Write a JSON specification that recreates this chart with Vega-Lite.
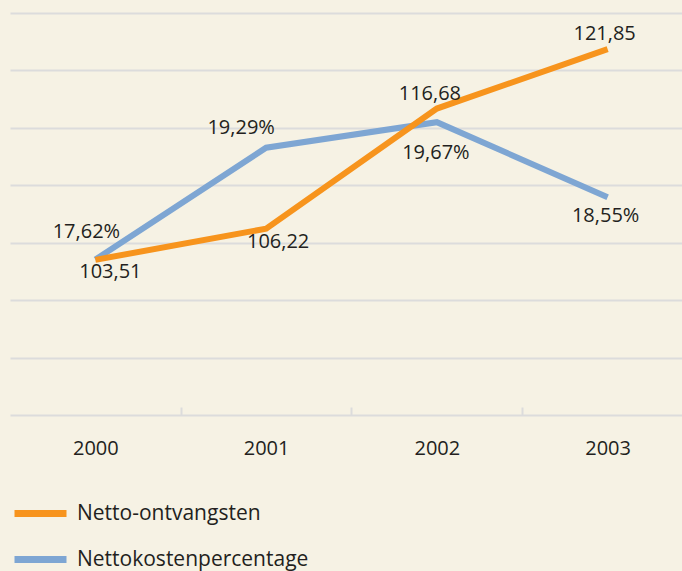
{
  "$schema": "https://vega.github.io/schema/vega-lite/v6.json",
  "width": 672,
  "height": 402,
  "autosize": {"type": "none"},
  "padding": {"left": 10, "top": 13, "right": 0, "bottom": 156},
  "background": "#f6f2e4",
  "config": {
    "view": {"stroke": null},
    "font": "Open Sans",
    "locale": {"number": {"decimal": ",", "thousands": ".", "grouping": [3], "currency": ["€", ""]}},
    "text": {"font": "Open Sans", "fontSize": 20, "color": "#231f20", "align": "center", "baseline": "middle"}
  },
  "data": {
    "values": [
      {"year": "2000", "series": "Netto-ontvangsten", "value": 103.51},
      {"year": "2001", "series": "Netto-ontvangsten", "value": 106.22},
      {"year": "2002", "series": "Netto-ontvangsten", "value": 116.68},
      {"year": "2003", "series": "Netto-ontvangsten", "value": 121.85},
      {"year": "2000", "series": "Nettokostenpercentage", "value": 0.1762},
      {"year": "2001", "series": "Nettokostenpercentage", "value": 0.1929},
      {"year": "2002", "series": "Nettokostenpercentage", "value": 0.1967},
      {"year": "2003", "series": "Nettokostenpercentage", "value": 0.1855}
    ]
  },
  "encoding": {
    "x": {
      "field": "year", "type": "ordinal",
      "scale": {"range": [0, 683], "paddingInner": 0, "paddingOuter": 0},
      "axis": {
        "title": null, "domain": false, "labelAngle": 0,
        "labelFont": "Open Sans", "labelFontSize": 20, "labelColor": "#231f20",
        "tickOffset": -85.4, "labelOffset": 85.4, "tickSize": -8, "tickWidth": 2,
        "tickColor": {"condition": {"test": "datum.value === '2000'", "value": "transparent"}, "value": "#dcdcdc"},
        "labelPadding": 31
      }
    }
  },
  "layer": [
    {
      "transform": [{"filter": "datum.series === 'Nettokostenpercentage'"}],
      "encoding": {
        "y": {"field": "value", "type": "quantitative", "scale": {"domain": [0.153, 0.213], "nice": false, "zero": false}, "axis": null}
      },
      "layer": [
        {
          "mark": {"type": "line", "strokeWidth": 6, "strokeCap": "butt", "strokeJoin": "miter"},
          "encoding": {
            "color": {"field": "series", "type": "nominal",
              "scale": {"domain": ["Netto-ontvangsten", "Nettokostenpercentage"], "range": ["#f7941d", "#7ea6d3"]},
              "legend": {
                "title": null, "orient": "none", "legendX": 1, "legendY": 471,
                "symbolType": "stroke", "symbolSize": 2704, "symbolStrokeWidth": 7,
                "labelFont": "Open Sans", "labelFontSize": 21, "labelColor": "#231f20", "labelLimit": 0,
                "labelOffset": 7, "rowPadding": 2
              }
            }
          }
        },
        {"transform": [{"filter": "datum.year === '2000'"}], "mark": {"type": "text", "dx": -9, "dy": -28}, "encoding": {"text": {"field": "value", "type": "quantitative", "format": ".2%"}}},
        {"transform": [{"filter": "datum.year === '2001'"}], "mark": {"type": "text", "dx": -25, "dy": -20}, "encoding": {"text": {"field": "value", "type": "quantitative", "format": ".2%"}}},
        {"transform": [{"filter": "datum.year === '2002'"}], "mark": {"type": "text", "dx": -1, "dy": 31}, "encoding": {"text": {"field": "value", "type": "quantitative", "format": ".2%"}}},
        {"transform": [{"filter": "datum.year === '2003'"}], "mark": {"type": "text", "dx": -2, "dy": 19}, "encoding": {"text": {"field": "value", "type": "quantitative", "format": ".2%"}}}
      ]
    },
    {
      "transform": [{"filter": "datum.series === 'Netto-ontvangsten'"}],
      "encoding": {
        "y": {"field": "value", "type": "quantitative", "scale": {"domain": [90, 125], "nice": false, "zero": false},
          "axis": {"title": null, "labels": false, "ticks": false, "domain": false, "grid": true, "gridColor": "#dcdcdc", "gridWidth": 2, "values": [90, 95, 100, 105, 110, 115, 120, 125]}}
      },
      "layer": [
        {
          "mark": {"type": "line", "strokeWidth": 6, "strokeCap": "butt", "strokeJoin": "miter"},
          "encoding": {
            "color": {"field": "series", "type": "nominal"}
          }
        },
        {"transform": [{"filter": "datum.year === '2000'"}], "mark": {"type": "text", "dx": 15, "dy": 12}, "encoding": {"text": {"field": "value", "type": "quantitative", "format": ".2f"}}},
        {"transform": [{"filter": "datum.year === '2001'"}], "mark": {"type": "text", "dx": 12, "dy": 13}, "encoding": {"text": {"field": "value", "type": "quantitative", "format": ".2f"}}},
        {"transform": [{"filter": "datum.year === '2002'"}], "mark": {"type": "text", "dx": -7, "dy": -15}, "encoding": {"text": {"field": "value", "type": "quantitative", "format": ".2f"}}},
        {"transform": [{"filter": "datum.year === '2003'"}], "mark": {"type": "text", "dx": -3, "dy": -15}, "encoding": {"text": {"field": "value", "type": "quantitative", "format": ".2f"}}}
      ]
    }
  ],
  "resolve": {"scale": {"y": "independent"}}
}
